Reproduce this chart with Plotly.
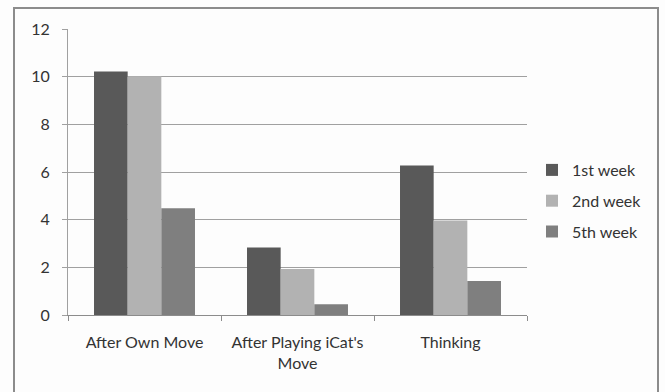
import plotly.graph_objects as go

# Categories and weekly series
categories = ["After Own Move", "After Playing iCat's Move", "Thinking"]
tick_labels = ["After Own Move", "After Playing iCat's<br>Move", "Thinking"]
series_names = ["1st week", "2nd week", "5th week"]
week1 = [10.22, 2.83, 6.27]
week2 = [10.02, 1.93, 3.96]
week5 = [4.48, 0.45, 1.43]
y_ticks = [0, 2, 4, 6, 8, 10, 12]

colors = ["#595959", "#b2b2b2", "#7f7f7f"]
text_color = "#333333"
font_family = "Lato, 'Open Sans', sans-serif"

W, H = 665, 392
ml, mr, mt, mb = 68, 138, 29, 77
pw, ph = W - ml - mr, H - mt - mb

fig = go.Figure()
for name, vals, col in zip(series_names, [week1, week2, week5], colors):
    fig.add_trace(go.Bar(
        x=categories, y=vals, name=name, marker_color=col,
        marker_line_width=0, legendgroup=name,
    ))

def px_x(p):
    return (p - ml) / pw

def px_y(p):
    return 1 - (p - mt) / ph

# outer chart frame
fig.add_shape(type="rect", xref="paper", yref="paper",
              x0=px_x(14), x1=px_x(658), y0=px_y(400), y1=px_y(8),
              line=dict(color="#8c8c8c", width=2), fillcolor="rgba(0,0,0,0)",
              layer="below")

fig.update_layout(
    width=W, height=H,
    margin=dict(l=ml, r=mr, t=mt, b=mb),
    paper_bgcolor="#fdfdfd", plot_bgcolor="#fdfdfd",
    barmode="group", bargap=0.34, bargroupgap=0,
    font=dict(family=font_family, size=16, color=text_color),
    showlegend=True,
    legend=dict(x=px_x(532), y=px_y(153), xanchor="left", yanchor="top",
                tracegroupgap=7, bgcolor="rgba(0,0,0,0)",
                font=dict(size=16, color=text_color)),
    xaxis=dict(
        tickmode="array", tickvals=categories, ticktext=tick_labels,
        tickson="boundaries", ticks="outside", ticklen=5,
        tickcolor="#8c8c8c", showline=True, linecolor="#8c8c8c",
        linewidth=1, showgrid=False, ticklabelstandoff=13,
    ),
    yaxis=dict(
        range=[0, 12], tickvals=y_ticks, ticks="outside", ticklen=5,
        tickcolor="#a0a0a0", showgrid=True, gridcolor="#a0a0a0",
        gridwidth=1, showline=True, linecolor="#a0a0a0", linewidth=1,
        zeroline=False, ticklabelstandoff=9,
    ),
)

fig.write_html("out.html")
